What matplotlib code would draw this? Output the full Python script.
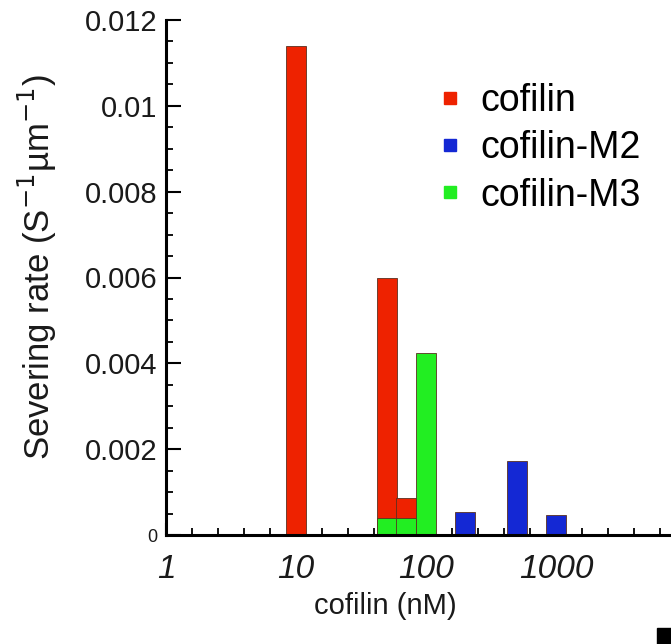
import numpy as np
import matplotlib
matplotlib.use("Agg")
import matplotlib.pyplot as plt
from matplotlib.ticker import FixedLocator, MultipleLocator, FuncFormatter
from matplotlib.lines import Line2D
from matplotlib.patches import Rectangle

plt.rcParams['font.family'] = ['Liberation Sans', 'DejaVu Sans']

# data
conc_cofilin = [10, 50, 70]
rate_cofilin = [0.0114, 0.0060, 0.00087]
conc_m2 = [200, 500, 1000]
rate_m2 = [0.00053, 0.00172, 0.00047]
conc_m3 = [50, 70, 100]
rate_m3 = [0.00040, 0.00040, 0.00423]
series_labels = ['cofilin', 'cofilin-M2', 'cofilin-M3']
series_colors = ['#ee2200', '#1428d4', '#22ee22']
x_major = [1, 10, 100, 1000, 10000]
y_major = [0, 0.002, 0.004, 0.006, 0.008, 0.01, 0.012]

W, H = 671, 644
fig = plt.figure(figsize=(W / 100, H / 100), dpi=100)
# axis origin at (166, 535) px, decade = 130 px
ax = fig.add_axes([166 / W, 1 - 535 / H, 520 / W, 515 / H])

half = 0.077  # half bar width in decades


def log_bars(xs, ys, color):
    lx = np.log10(xs)
    left = 10 ** (lx - half)
    width = 10 ** (lx + half) - left
    ax.bar(left, ys, width=width, align='edge', color=color,
           edgecolor='#5a3020', linewidth=0.6, zorder=2)


log_bars(conc_cofilin, rate_cofilin, series_colors[0])
log_bars(conc_m2, rate_m2, series_colors[1])
log_bars(conc_m3, rate_m3, series_colors[2])

ax.set_xscale('log')
ax.set_xlim(1, 10 ** 4.0)
ax.set_ylim(0, 0.012)

ax.xaxis.set_major_locator(FixedLocator(x_major))
minor = [10 ** v for v in np.arange(0, 4.01, 0.2) if abs(v - round(v)) > 1e-6]
ax.xaxis.set_minor_locator(FixedLocator(minor))
# the 10000 label falls outside the panel
ax.xaxis.set_major_formatter(FuncFormatter(lambda v, p: '%d' % round(v) if v < 5000 else ''))
ax.xaxis.set_minor_formatter(FuncFormatter(lambda v, p: ''))

ax.yaxis.set_major_locator(FixedLocator(y_major))
ax.yaxis.set_minor_locator(MultipleLocator(0.0005))
ax.yaxis.set_major_formatter(FuncFormatter(lambda v, p: '%g' % v))

for s in ['top', 'right']:
    ax.spines[s].set_visible(False)
for s in ['left', 'bottom']:
    ax.spines[s].set_linewidth(2.2)
    ax.spines[s].set_zorder(3)

ax.tick_params(axis='y', which='major', direction='in', length=11, width=1.5,
               labelsize=21, pad=6, labelcolor='#1a1a1a')
ax.tick_params(axis='y', which='minor', direction='in', length=5, width=1.3)
ax.tick_params(axis='x', which='major', direction='in', length=9, width=1.5,
               labelsize=24, pad=14, labelcolor='#1a1a1a')
ax.tick_params(axis='x', which='minor', direction='in', length=5, width=1.3)

for lab in ax.get_xticklabels():
    lab.set_fontstyle('italic')
fig.canvas.draw()
ax.get_yticklabels()[0].set_fontsize(13)

ax.set_xlabel('cofilin (nM)', fontsize=21, color='#1a1a1a')
ax.xaxis.set_label_coords((385 - 166) / 520, -0.11)
ax.set_ylabel('Severing rate (S$^{-1}$µm$^{-1}$)', fontsize=25, color='#1a1a1a')
ax.yaxis.set_label_coords(-0.205, 0.52)

handles = [Line2D([], [], marker='s', linestyle='none', markersize=9,
                  markerfacecolor=c, markeredgecolor=c) for c in series_colors]
ax.legend(handles, series_labels, loc='upper left',
          bbox_to_anchor=(424 / W, 1 - 68 / H), bbox_transform=fig.transFigure,
          frameon=False, fontsize=27, handlelength=0.6, handletextpad=0.5,
          labelspacing=0.3, borderaxespad=0)

# corner of the neighbouring panel
fig.patches.append(Rectangle((657 / W, 0), 14 / W, 16 / H, color='black',
                             transform=fig.transFigure, figure=fig))

fig.savefig('out.png', dpi=100)
